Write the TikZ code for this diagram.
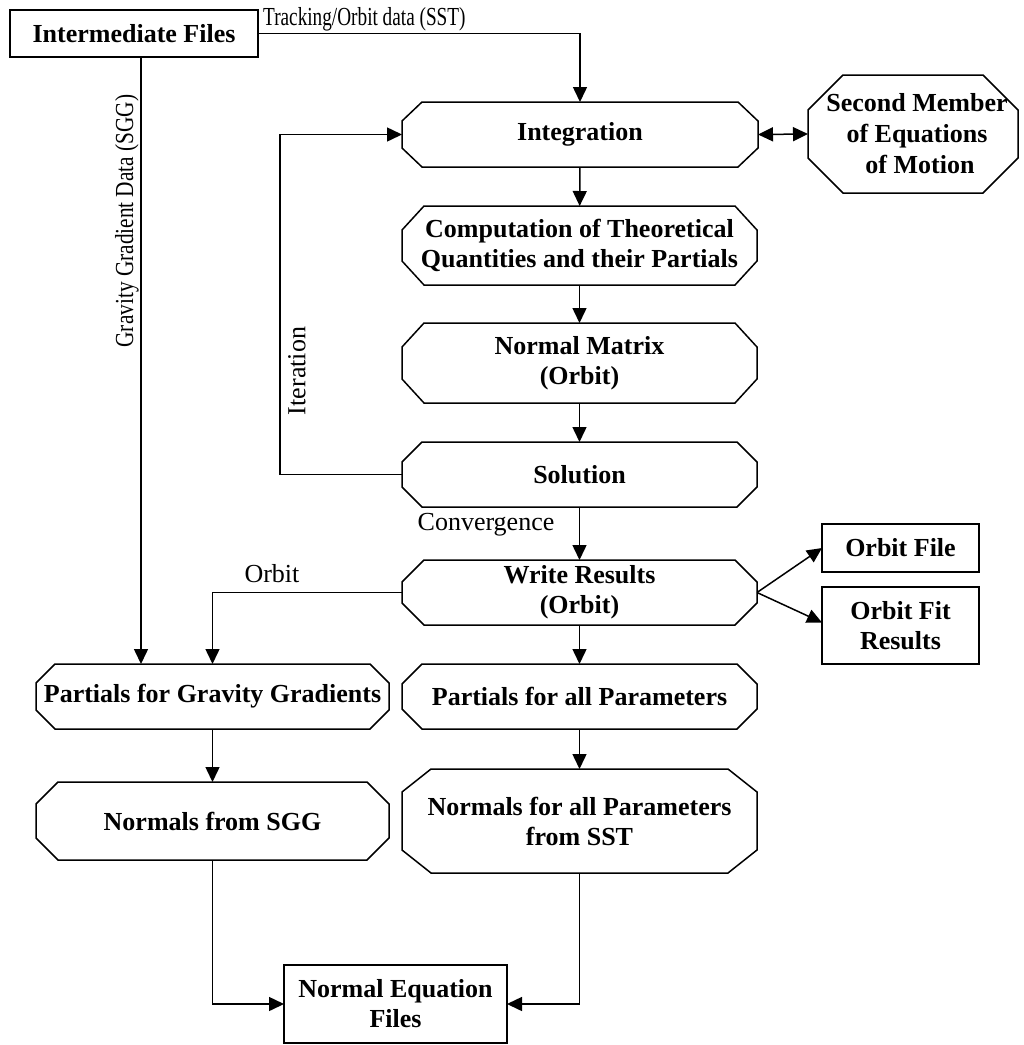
\documentclass[tikz,border=0pt]{standalone}
\usepackage{fontspec}
\setmainfont{Liberation Serif}
\usetikzlibrary{arrows.meta}

% outline of a box with cut corners: node name, horizontal cut, vertical cut
\newcommand\octoutline[3]{%
  \draw[boxline] ([xshift=#2pt]#1.north west) -- ([xshift=-#2pt]#1.north east)
    -- ([yshift=-#3pt]#1.north east) -- ([yshift=#3pt]#1.south east)
    -- ([xshift=-#2pt]#1.south east) -- ([xshift=#2pt]#1.south west)
    -- ([yshift=#3pt]#1.south west) -- ([yshift=-#3pt]#1.north west) -- cycle;}

\begin{document}
\begin{tikzpicture}[x=1pt,y=-1pt,
  boxline/.style={line width=1.5pt, line join=miter},
  base/.style={inner sep=0pt, outer sep=0pt, align=center,
    font=\fontsize{26}{30}\selectfont\bfseries},
  plainbox/.style={base, draw, line width=1.5pt},
  octbox/.style={base, rectangle},
  lbl/.style={inner sep=0pt, font=\fontsize{26}{30}\selectfont},
  arr/.style={line width=1.5pt, -{Triangle[length=15pt,width=14pt]}},
  dblarr/.style={line width=1.5pt, {Triangle[length=15pt,width=14pt]}-{Triangle[length=15pt,width=14pt]}},
  wire/.style={line width=1.5pt}]
\useasboundingbox (0,0) rectangle (1024,1045);

% boxes
\node[plainbox, minimum width=248pt, minimum height=47pt] (inter) at (134,33.5) {Intermediate Files};
\node[octbox, minimum width=356pt, minimum height=65pt] (integ) at (580,134.5) {Integration};
\node[octbox, minimum width=210pt, minimum height=118pt] (second) at (913,134)
  {\hspace*{8pt}Second Member\\[1pt]\hspace*{8pt}of Equations\\[1pt]\hspace*{14pt}of Motion};
\node[octbox, minimum width=355pt, minimum height=79pt] (comp) at (579.5,245.5) {Computation of Theoretical\\Quantities and their Partials};
\node[octbox, minimum width=355pt, minimum height=80pt] (nmat) at (579.5,363) {Normal Matrix\\(Orbit)};
\node[octbox, minimum width=355pt, minimum height=65pt] (sol) at (579.5,474.5) {Solution};
\node[octbox, minimum width=355pt, minimum height=65pt] (write) at (579.5,592.5) {Write Results\\(Orbit)};
\node[octbox, minimum width=353pt, minimum height=65pt] (pgg) at (212.5,696.5) {Partials for Gravity Gradients};
\node[octbox, minimum width=355pt, minimum height=65pt] (pall) at (579.5,696.5) {Partials for all Parameters};
\node[octbox, minimum width=353pt, minimum height=78pt] (nsgg) at (212.5,821) {Normals from SGG};
\node[octbox, minimum width=355pt, minimum height=104pt] (nsst) at (579.5,821) {Normals for all Parameters\\from SST};
\node[plainbox, minimum width=157pt, minimum height=48pt] (ofile) at (900.5,548) {Orbit File};
\node[plainbox, minimum width=157pt, minimum height=77pt] (ofit) at (900.5,625.5) {Orbit Fit\\Results};
\node[plainbox, minimum width=223pt, minimum height=78pt] (nef) at (395.5,1004) {Normal Equation\\Files};

\octoutline{integ}{20}{19}
\octoutline{second}{35}{35}
\octoutline{comp}{22}{24}
\octoutline{nmat}{22}{24}
\octoutline{sol}{20}{20}
\octoutline{write}{22}{22}
\octoutline{pgg}{19}{19}
\octoutline{pall}{20}{20}
\octoutline{nsgg}{22}{22}
\octoutline{nsst}{29}{23}

% helper points for the routed connectors
\coordinate (gx) at (141,0);
\coordinate (itx) at (280,134.5);

% connectors
\draw[arr] (inter.east) -| (integ.north);
\node[lbl, anchor=west] (tracklbl) at (263,19) {\scalebox{0.74}[1]{Tracking/Orbit data (SST)}};

\draw[arr] (inter.south -| gx) -- (pgg.north -| gx);
\node[lbl, rotate=90] (sgglbl) at (127,221) {\scalebox{0.82}[1]{Gravity Gradient Data (SGG)}};

\draw[dblarr] (integ.east) -- (second.west);
\draw[arr] (integ) -- (comp);
\draw[arr] (comp) -- (nmat);
\draw[arr] (nmat) -- (sol);
\draw[arr] (sol) -- (write);
\node[lbl] (convlbl) at (486,525) {Convergence};

\draw[arr] (sol.west) -| (itx) -- (integ.west);
\node[lbl, rotate=90] (itlbl) at (297,371) {Iteration};

\draw[arr] (write.east) -- (ofile.west);
\draw[arr] (write.east) -- ([yshift=3pt]ofit.west);

\draw[arr] (write.west) -| (pgg.north);
\node[lbl] (orbitlbl) at (272,574) {Orbit};

\draw[arr] (write) -- (pall);
\draw[arr] (pall) -- (nsst);
\draw[arr] (pgg) -- (nsgg);

\draw[arr] (nsgg.south) |- (nef.west);
\draw[arr] (nsst.south) |- (nef.east);
\end{tikzpicture}
\end{document}
